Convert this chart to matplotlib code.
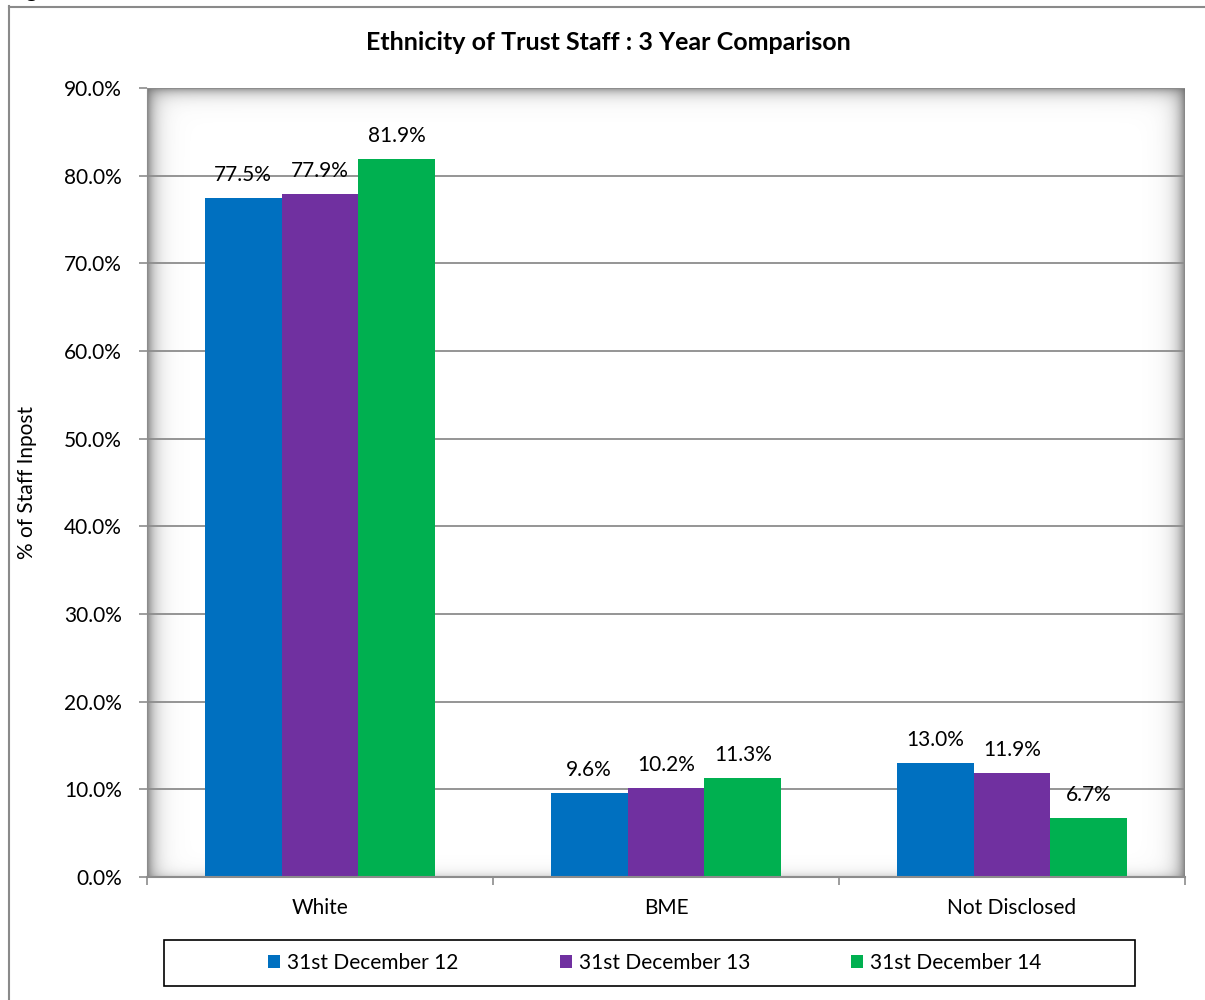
import numpy as np
import matplotlib.pyplot as plt
from matplotlib.patches import Patch, Rectangle
from matplotlib.lines import Line2D

plt.rcParams['font.family'] = ['Lato', 'DejaVu Sans']

categories = ['White', 'BME', 'Not Disclosed']
series_names = ['31st December 12', '31st December 13', '31st December 14']
dec12 = [77.5, 9.6, 13.0]
dec13 = [77.9, 10.2, 11.9]
dec14 = [81.9, 11.3, 6.7]
colors = ['#0070C0', '#7030A0', '#00B050']

FS = 15
W, H = 1205, 1000
fig = plt.figure(figsize=(W / 100, H / 100), dpi=100)

# outer chart frame (only top and left edges fall inside the canvas)
fig.add_artist(Line2D([8.5 / W, 8.5 / W], [0, 1 - 6 / H], color='#8a8a8a', lw=1.5))
fig.add_artist(Line2D([8.5 / W, 1], [1 - 6.5 / H, 1 - 6.5 / H], color='#8a8a8a', lw=1.5))
fig.text(8 / W, 1 + 9 / H, 'Fig', fontsize=16, va='center', ha='left')

ax_l, ax_r, ax_t, ax_b = 147, 1185, 88, 877
ax = fig.add_axes([ax_l / W, 1 - ax_b / H, (ax_r - ax_l) / W, (ax_b - ax_t) / H])

# inner shadow of the plot area
pw, ph = ax_r - ax_l, ax_b - ax_t
xx = np.arange(pw)[None, :] + 0.5
yy = np.arange(ph)[:, None] + 0.5
aL = 0.85 * np.exp(-xx / 8.0)
aR = 0.85 * np.exp(-(pw - xx) / 8.0)
aT = 0.75 * np.exp(-yy / 6.5)
aB = 0.3 * np.exp(-(ph - yy) / 5.0)
alpha = 1 - (1 - aL) * (1 - aR) * (1 - aT) * (1 - aB)
shadow = np.zeros((ph, pw, 4))
shadow[..., :3] = 0.42
shadow[..., 3] = alpha
ax.imshow(shadow, extent=[0, 1, 0, 1], transform=ax.transAxes, aspect='auto',
          zorder=0.5, interpolation='bilinear')

x = np.arange(len(categories))
width = 0.2225
for i, (vals, name) in enumerate(zip([dec12, dec13, dec14], series_names)):
    pos = x + (i - 1) * width
    ax.bar(pos, vals, width, color=colors[i], zorder=3, label=name)
    for px, v in zip(pos, vals):
        ax.annotate(f'{v:.1f}%', (px, v), xytext=(0, 16.5), textcoords='offset points',
                    ha='center', va='center', fontsize=FS, zorder=4)

ax.set_xlim(-0.5, 2.5)
ax.set_ylim(0, 90)
ax.set_yticks(np.arange(0, 91, 10))
ax.set_yticklabels([f'{t:.1f}%' for t in np.arange(0, 91, 10)], fontsize=FS)
ax.yaxis.grid(True, color='#8c8c8c', lw=1.3, zorder=1)
ax.set_axisbelow(False)
ax.set_xticks([-0.5, 0.5, 1.5, 2.5])
ax.set_xticklabels([])
ax.set_xticks(x, minor=True)
ax.set_xticklabels(categories, minor=True, fontsize=FS)
ax.tick_params(axis='x', which='minor', length=0, pad=15)
ax.tick_params(axis='x', which='major', length=6, color='#8c8c8c', width=1.2)
ax.tick_params(axis='y', length=6, color='#8c8c8c', width=1.2, pad=12)
for s in ['top', 'right']:
    ax.spines[s].set_visible(False)
ax.spines['left'].set_color('#8c8c8c')
ax.spines['bottom'].set_color('#8c8c8c')
ax.spines['bottom'].set_linewidth(1.5)
ax.spines['bottom'].set_zorder(5)

ax.set_ylabel('% of Staff Inpost', fontsize=FS)
ax.yaxis.set_label_coords(-(ax_l - 37) / pw, 0.5)

fig.text(608 / W, 1 - 42 / H, 'Ethnicity of Trust Staff : 3 Year Comparison',
         ha='center', va='center', fontsize=18, fontweight='bold')

# legend box
fig.add_artist(Rectangle((164.5 / W, 1 - 986 / H), (1135 - 164.5) / W, 46 / H,
                         transform=fig.transFigure, fill=False, ec='black', lw=1.2))
handles = [Patch(facecolor=c, edgecolor='none') for c in colors]
fig.legend(handles, series_names, loc='center', bbox_to_anchor=(655 / W, 1 - 963 / H),
           ncol=3, frameon=False, fontsize=FS, handlelength=0.58, handleheight=0.58,
           handletextpad=0.34, columnspacing=4.85)

fig.savefig('out.png', dpi=100)
